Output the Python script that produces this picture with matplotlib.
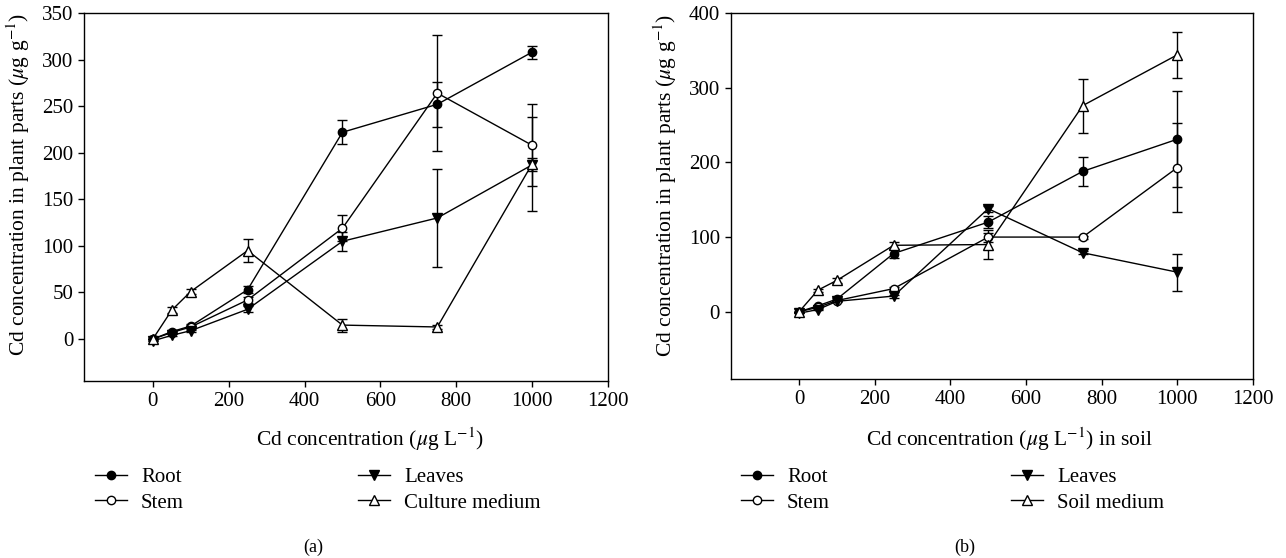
import numpy as np
import matplotlib
matplotlib.use('Agg')
import matplotlib.pyplot as plt

plt.rcParams['font.family'] = ['Liberation Serif', 'DejaVu Serif']
plt.rcParams['mathtext.fontset'] = 'stix'

conc = [0, 50, 100, 250, 500, 750, 1000]

# (a) culture solution
a_root = [0, 8, 14, 53, 222, 252, 308]
a_root_err = [0, 2, 2, 4, 13, 24, 7]
a_stem = [0, 7, 13, 42, 119, 264, 208]
a_stem_err = [0, 1, 2, 3, 14, 62, 44]
a_leaves = [-2, 4, 9, 32, 105, 130, 187]
a_leaves_err = [0, 1, 1, 3, 10, 53, 7]
a_medium = [0, 31, 51, 95, 15, 13, 188]
a_medium_err = [0, 3, 3, 12, 7, 2, 50]

# (b) soil
b_root = [0, 8, 17, 78, 120, 188, 231]
b_root_err = [0, 1, 2, 6, 8, 19, 64]
b_stem = [0, 6, 15, 31, 100, 100, 193]
b_stem_err = [0, 1, 1, 2, 6, 2, 60]
b_leaves = [-2, 3, 14, 21, 138, 79, 53]
b_leaves_err = [0, 1, 1, 2, 4, 2, 25]
b_medium = [0, 29, 42, 89, 90, 276, 344]
b_medium_err = [0, 2, 3, 5, 19, 36, 31]

W, H = 1286, 558
fig = plt.figure(figsize=(W / 100, H / 100), dpi=100)
ax_a = fig.add_axes([0.0657, 0.3172, 0.4071, 0.6595])
ax_b = fig.add_axes([0.5684, 0.3208, 0.4059, 0.6559])


def draw_panel(ax, series, medium_label, yticks, ylim, xlabel, tag, tag_x,
               leg_x, xlab_xy, ylab_xy):
    styles = [
        ('Root', 'o', 'black', 6),
        ('Stem', 'o', 'white', 6),
        ('Leaves', 'v', 'black', 7.5),
        (medium_label, '^', 'white', 7.5),
    ]
    handles = []
    for (label, mk, fc, ms), (vals, err) in zip(styles, series):
        ax.errorbar(conc, vals, yerr=err, fmt='none', ecolor='black',
                    elinewidth=1.0, capsize=3.6, capthick=1.0, zorder=2)
        h, = ax.plot(conc, vals, '-', color='black', linewidth=1.0,
                     marker=mk, markersize=ms, markerfacecolor=fc,
                     markeredgecolor='black', markeredgewidth=1.0,
                     label=label, zorder=3)
        handles.append(h)
    ax.set_xlim(-180, 1200)
    ax.set_ylim(*ylim)
    ax.set_xticks([0, 200, 400, 600, 800, 1000, 1200])
    ax.set_yticks(yticks)
    ax.tick_params(direction='out', length=4.5, width=1, labelsize=15,
                   top=False, right=False)
    for sp in ax.spines.values():
        sp.set_linewidth(1.0)
    ax.set_xlabel(xlabel, fontsize=15.5)
    ax.xaxis.set_label_coords(*xlab_xy)
    ax.set_ylabel(r'Cd concentration in plant parts ($\mu$g g$^{-1}$)',
                  fontsize=15.5)
    ax.yaxis.set_label_coords(*ylab_xy)
    # two legend columns, each placed at its own spot below the axes
    for col, x_px in zip([handles[:2], handles[2:]], leg_x):
        fig.legend(handles=col, loc='center left',
                   bbox_to_anchor=(x_px / W, 1 - 490 / H),
                   frameon=False, fontsize=15, handlelength=1.55,
                   handletextpad=0.67, labelspacing=0.3, borderpad=0.4)
    fig.text(tag_x / W, 1 - 547 / H, tag, ha='center', va='center',
             fontsize=13)


draw_panel(ax_a,
           [(a_root, a_root_err), (a_stem, a_stem_err),
            (a_leaves, a_leaves_err), (a_medium, a_medium_err)],
           'Culture medium', [0, 50, 100, 150, 200, 250, 300, 350],
           (-45, 350), r'Cd concentration ($\mu$g L$^{-1}$)', '(a)', 313,
           [76, 339], (0.545, -0.122), (-0.100, 0.535))
draw_panel(ax_b,
           [(b_root, b_root_err), (b_stem, b_stem_err),
            (b_leaves, b_leaves_err), (b_medium, b_medium_err)],
           'Soil medium', [0, 100, 200, 300, 400],
           (-90, 400), r'Cd concentration ($\mu$g L$^{-1}$) in soil', '(b)',
           965, [722, 992], (0.534, -0.128), (-0.0996, 0.530))

fig.savefig('out.png', dpi=100)
